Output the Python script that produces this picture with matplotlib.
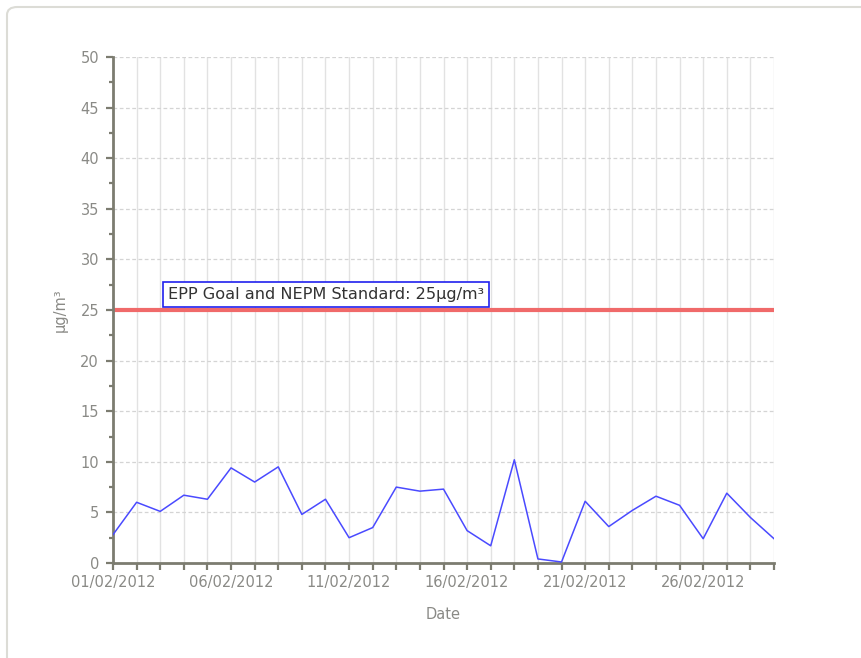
import matplotlib
matplotlib.use("Agg")
import matplotlib.pyplot as plt
from matplotlib.patches import FancyBboxPatch
from matplotlib.ticker import MultipleLocator, FixedLocator

# Daily PM2.5 readings, February 2012 (μg/m³)
days = list(range(1, 30))
pm25 = [2.8, 6.0, 5.1, 6.7, 6.3, 9.4, 8.0, 9.5, 4.8, 6.3,
        2.5, 3.5, 7.5, 7.1, 7.3, 3.2, 1.7, 10.2, 0.4, 0.1,
        6.1, 3.6, 5.2, 6.6, 5.7, 2.4, 6.9, 4.5, 2.4]
tick_days = [1, 6, 11, 16, 21, 26]
tick_labels = ["01/02/2012", "06/02/2012", "11/02/2012",
               "16/02/2012", "21/02/2012", "26/02/2012"]
standard = 25
standard_label = "EPP Goal and NEPM Standard: 25μg/m³"

W, H = 861, 658
fig = plt.figure(figsize=(W / 100, H / 100), dpi=100)

# Panel frame with rounded corner
frame = FancyBboxPatch((7 / W, -20 / H), 880 / W, (H - 7 + 20) / H,
                       boxstyle="round,pad=0,rounding_size=0.012",
                       transform=fig.transFigure, fill=False,
                       edgecolor="#dcdcd6", linewidth=1.5)
fig.patches.append(frame)

ax = fig.add_axes([113 / W, 1 - 563 / H, (774 - 113) / W, (563 - 57) / H])

axis_col = "#7c7c70"
text_col = "#8a8a86"
fs = 10.5

ax.set_xlim(1, 29)
ax.set_ylim(0, 50)

# Vertical day gridlines and dashed horizontal gridlines
for d in days[1:]:
    ax.axvline(d, color="#e2e2e2", lw=1.0, zorder=0)
for v in range(5, 51, 5):
    ax.axhline(v, color="#d4d4d4", lw=0.9, ls=(0, (3, 2)), zorder=0)

ax.plot(days, pm25, color="#4a4aff", lw=1.1, zorder=3)
ax.axhline(standard, color="#f06a6a", lw=3, zorder=2)

ax.text(3.33, 26.55, standard_label, fontsize=11.6, color="#333333",
        va="center", ha="left", zorder=5,
        bbox=dict(boxstyle="square,pad=0.3", fc="white", ec="#2020ee", lw=1.2))

for s in ("top", "right"):
    ax.spines[s].set_visible(False)
for s in ("left", "bottom"):
    ax.spines[s].set_color(axis_col)
    ax.spines[s].set_linewidth(2)

ax.xaxis.set_major_locator(FixedLocator(tick_days))
ax.set_xticklabels(tick_labels)
ax.xaxis.set_minor_locator(MultipleLocator(1))
ax.yaxis.set_major_locator(MultipleLocator(5))
ax.yaxis.set_minor_locator(MultipleLocator(2.5))

ax.tick_params(axis="x", which="both", direction="out", length=5, width=1.6,
               color=axis_col, labelcolor=text_col, labelsize=fs, pad=4)
ax.tick_params(axis="y", which="major", direction="out", length=5, width=1.6,
               color=axis_col, labelcolor=text_col, labelsize=fs, pad=5)
ax.tick_params(axis="y", which="minor", direction="out", length=3, width=1.6,
               color=axis_col)

ax.set_xlabel("Date", fontsize=fs, color=text_col, labelpad=12)
ax.set_ylabel("μg/m³", fontsize=fs, color=text_col, labelpad=9)

fig.savefig("out.png", dpi=100, facecolor="white")
